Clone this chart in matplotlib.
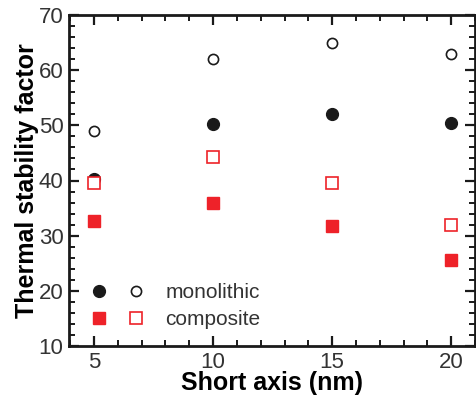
import matplotlib
matplotlib.use("Agg")
import matplotlib.pyplot as plt
from matplotlib.ticker import MultipleLocator
from matplotlib.legend_handler import HandlerTuple

plt.rcParams['font.family'] = ['Liberation Sans', 'DejaVu Sans']

short_axis = [5, 10, 15, 20]
mono_filled = [40.2, 50.2, 52.1, 50.5]
mono_open = [49.0, 62.0, 64.9, 63.0]
comp_filled = [32.6, 35.9, 31.8, 25.5]
comp_open = [39.6, 44.2, 39.5, 31.9]

red = '#ee2229'
dark = '#1a1a1a'

fig = plt.figure(figsize=(4.76, 4.00), dpi=100)
ax = fig.add_axes([69/476, 1-346/400, (475-69)/476, (346-15)/400])

ms_c = 8.5
ms_s = 9
h1, = ax.plot(short_axis, mono_filled, 'o', color=dark, ms=ms_c, ls='none')
h2, = ax.plot(short_axis, mono_open, 'o', mfc='white', mec=dark, mew=1.2, ms=ms_c-1.2, ls='none')
h3, = ax.plot(short_axis, comp_filled, 's', color=red, ms=ms_s, ls='none')
h4, = ax.plot(short_axis, comp_open, 's', mfc='white', mec=red, mew=1.2, ms=ms_s-0.5, ls='none')

ax.set_xlim(3.95, 21.0)
ax.set_ylim(10, 70)
ax.xaxis.set_major_locator(MultipleLocator(5))
ax.xaxis.set_minor_locator(MultipleLocator(1))
ax.yaxis.set_major_locator(MultipleLocator(10))
ax.yaxis.set_minor_locator(MultipleLocator(2))
ax.tick_params(which='both', direction='in', top=True, right=True, color=dark,
               labelsize=16, labelcolor='#333333')
ax.tick_params(which='major', length=7, width=1.6, pad=4)
ax.tick_params(which='minor', length=4.5, width=1.4)
for s in ax.spines.values():
    s.set_linewidth(2)
    s.set_color(dark)

ax.set_xlabel('Short axis (nm)', fontsize=18, fontweight='bold', labelpad=-1)
ax.set_ylabel('Thermal stability factor', fontsize=18, fontweight='bold', labelpad=0)

leg = ax.legend([(h1, h2), (h3, h4)], ['monolithic', 'composite'],
                handler_map={tuple: HandlerTuple(ndivide=None, pad=0.96)},
                loc='lower left', bbox_to_anchor=(0.0325, 0.025), borderaxespad=0,
                frameon=False, fontsize=15, handlelength=2.6, handletextpad=0.99,
                labelspacing=0.4)
for t in leg.get_texts():
    t.set_color('#333333')

fig.savefig('out.png', dpi=100)
